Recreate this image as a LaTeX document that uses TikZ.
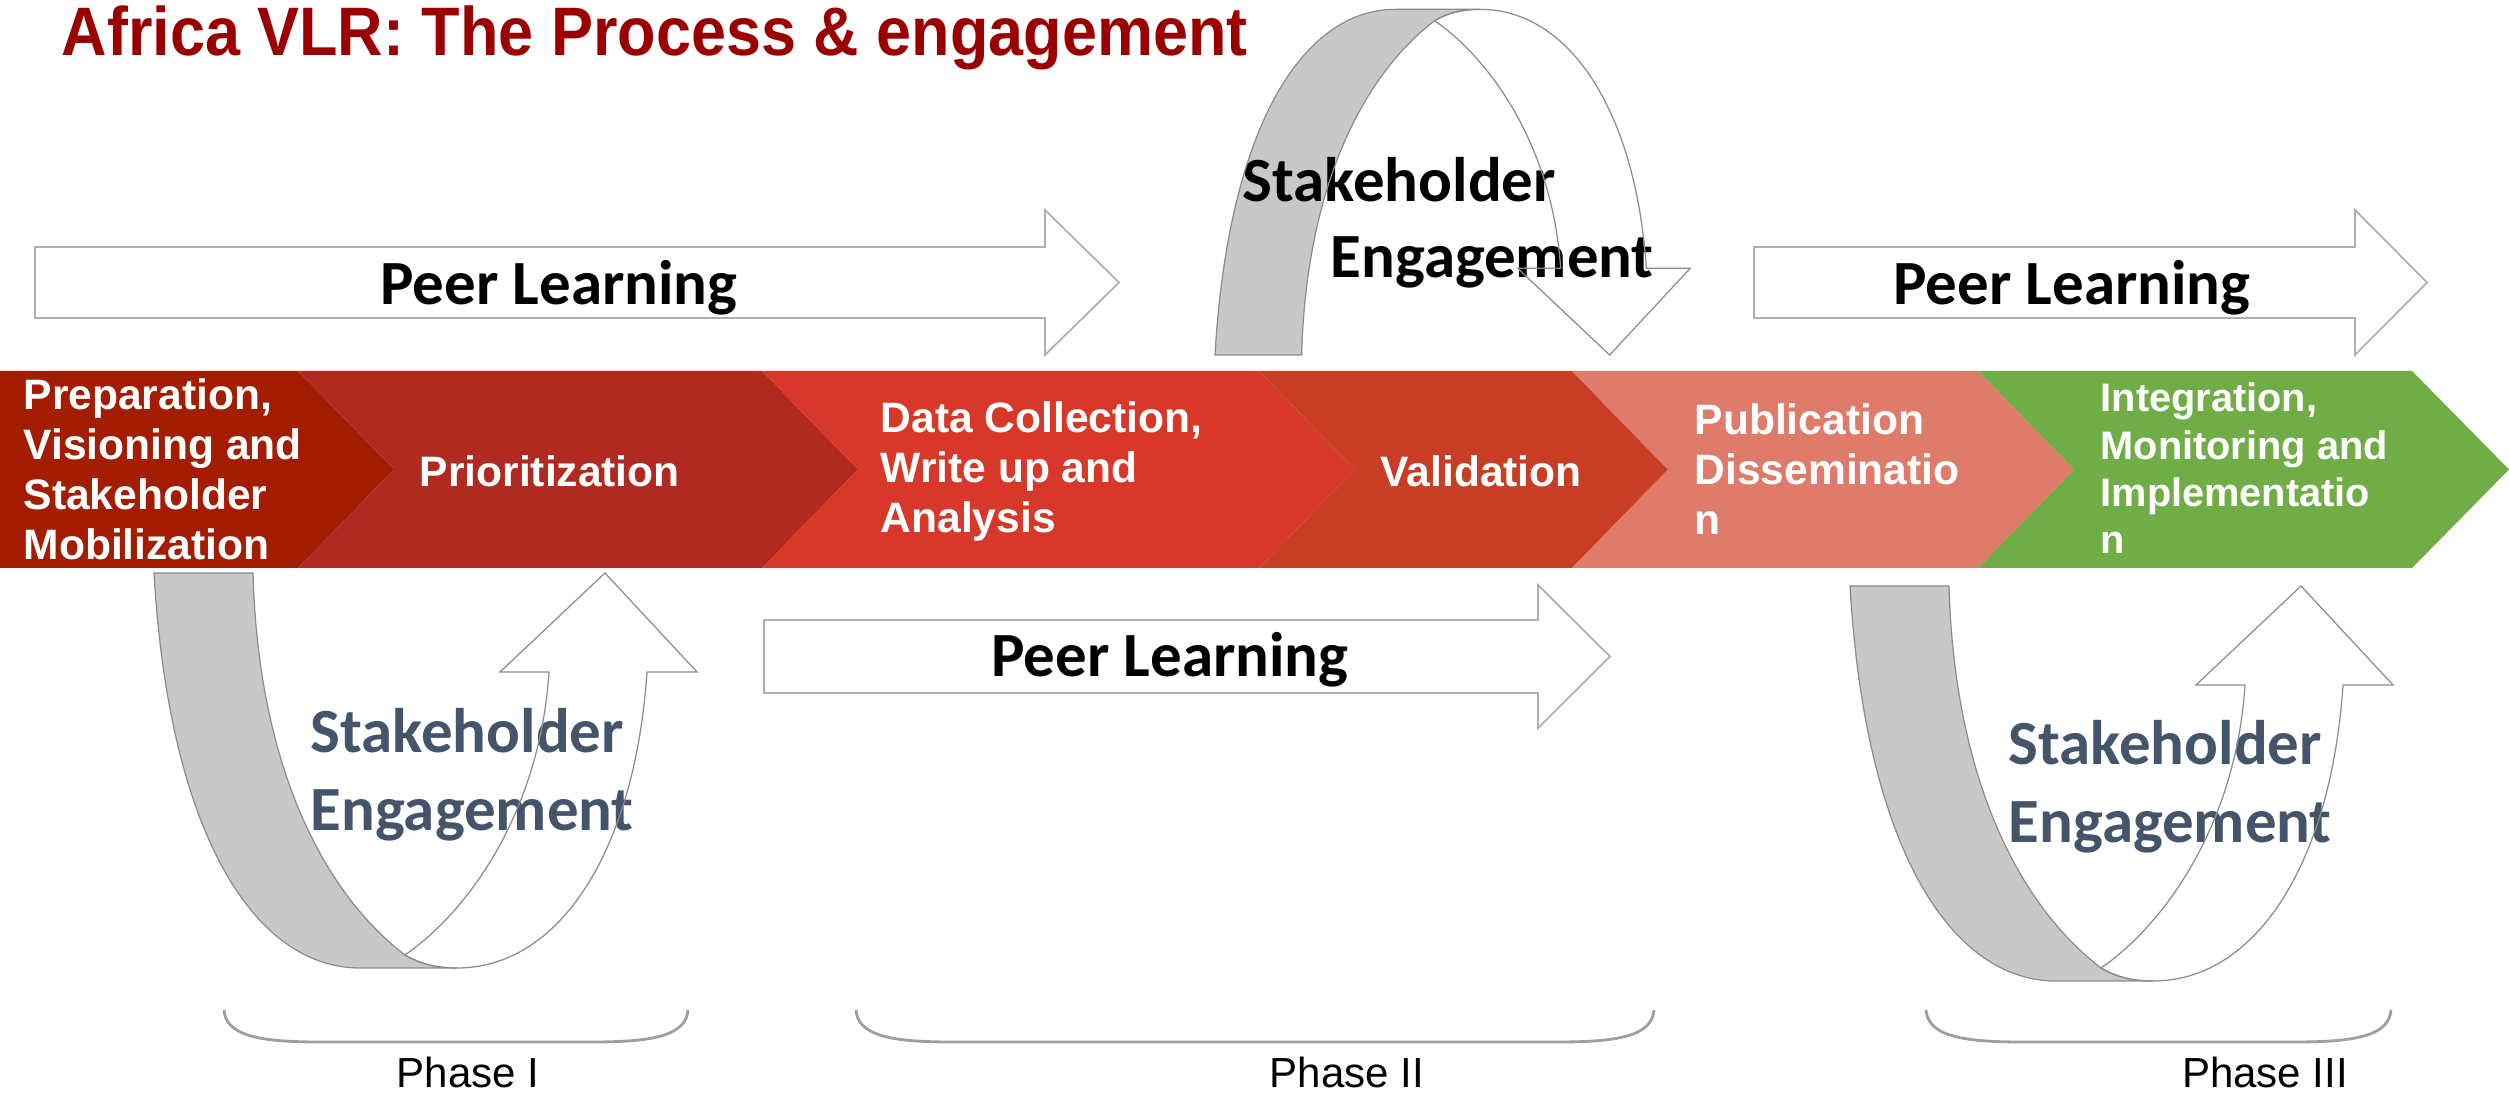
\documentclass[tikz,border=0pt]{standalone}
\usepackage{graphicx}
\usepackage{fontspec}
\setmainfont{Liberation Sans}
\newfontfamily\calfont{Carlito}
\definecolor{titlered}{RGB}{155,0,0}
\definecolor{cA}{RGB}{163,29,3}
\definecolor{cB}{RGB}{176,42,34}
\definecolor{cC}{RGB}{216,56,42}
\definecolor{cD}{RGB}{200,62,36}
\definecolor{cE}{RGB}{222,123,106}
\definecolor{cF}{RGB}{112,173,71}
\definecolor{slate}{RGB}{68,84,106}
\definecolor{ribbon}{RGB}{200,200,200}
\definecolor{edge}{RGB}{140,140,140}
\newcommand\ugraypath{(0,0) -- (99,0) .. controls (104,187) and (166,317) .. (251,382) .. controls (268,392) and (285,395) .. (303,395) -- (206,395) .. controls (100,395) and (15,260) .. (0,0) -- cycle}
\newcommand\uwhitepath{(251,382) .. controls (316,337) and (386,237) .. (395,99) -- (346,99) -- (451,0) -- (543,99) -- (493,99) .. controls (481,277) and (406,395) .. (303,395) .. controls (285,395) and (268,392) .. (251,382) -- cycle}
\tikzset{
  chevtext/.style={text=white, font=\fontsize{12.1pt}{14.2pt}\selectfont\bfseries, inner sep=0pt, anchor=base west},
  chevtextsmall/.style={chevtext, font=\fontsize{11.3pt}{13.4pt}\selectfont\bfseries},
  peertext/.style={font=\calfont\fontsize{17.9pt}{21.9pt}\selectfont\bfseries, inner sep=0pt, anchor=base},
  stketext/.style={font=\calfont\fontsize{17.9pt}{21.9pt}\selectfont\bfseries, inner sep=0pt, anchor=base west},
  blockarrow/.style={draw=edge!70, fill=white, line width=0.5pt},
  ribbonedge/.style={draw=edge, line width=0.35pt},
  phasebrace/.style={draw=gray!75, line width=0.8pt},
  phasetext/.style={font=\fontsize{11.95pt}{14pt}\selectfont, inner sep=0pt, anchor=base},
}
\begin{document}
\begin{tikzpicture}[x=0.01cm,y=-0.01cm]
\useasboundingbox (0,0) rectangle (2509,1095);
\fill[white] (0,0) rectangle (2509,1095);

% title
\node[anchor=base west, inner sep=0pt, text=titlered, font=\fontsize{17.9pt}{20pt}\selectfont\bfseries] (title) at (61,56) {\scalebox{1}[1.09]{Africa VLR: The Process \& engagement}};

% chevron band
\fill[cA] (0,371) -- (298,371) -- (394,469.5) -- (298,568) -- (0,568) -- cycle;
\fill[cB] (298,371) -- (762,371) -- (858,469.5) -- (762,568) -- (298,568) -- (394,469.5) -- cycle;
\fill[cC] (762,371) -- (1259,371) -- (1355,469.5) -- (1259,568) -- (762,568) -- (858,469.5) -- cycle;
\fill[cD] (1259,371) -- (1572,371) -- (1668,469.5) -- (1572,568) -- (1259,568) -- (1355,469.5) -- cycle;
\fill[cE] (1572,371) -- (1978,371) -- (2074,469.5) -- (1978,568) -- (1572,568) -- (1668,469.5) -- cycle;
\fill[cF] (1978,371) -- (2412,371) -- (2509,469.5) -- (2412,568) -- (1978,568) -- (2074,469.5) -- cycle;

\node[chevtext] (s1) at (23,410) {\vtop{\hbox{Preparation,}\hbox{Visioning and}\hbox{Stakeholder}\hbox{Mobilization}}};
\node[chevtext] (s2) at (419,487) {Prioritization};
\node[chevtext] (s3) at (880,433) {\vtop{\hbox{Data Collection,}\hbox{Write up and}\hbox{Analysis}}};
\node[chevtext] (s4) at (1380,487) {Validation};
\node[chevtext] (s5) at (1694,435) {\vtop{\hbox{Publication}\hbox{Disseminatio}\hbox{n}}};
\node[chevtextsmall] (s6) at (2100,412) {\vtop{\hbox{Integration,}\hbox{Monitoring and}\hbox{Implementatio}\hbox{n}}};

% peer learning block arrows
\path[blockarrow] (35,247) -- (1045,247) -- (1045,210) -- (1119,282.5) -- (1045,355) -- (1045,318) -- (35,318) -- cycle;
\path[blockarrow] (1754,247) -- (2355,247) -- (2355,210) -- (2427,282.5) -- (2355,355) -- (2355,318) -- (1754,318) -- cycle;
\path[blockarrow] (764,620) -- (1538,620) -- (1538,585) -- (1610,656.5) -- (1538,728) -- (1538,693) -- (764,693) -- cycle;
\node[peertext] (peer1) at (559,305) {Peer Learning};
\node[peertext] (peer2) at (2072,305) {Peer Learning};
\node[peertext] (peer3) at (1170,677) {Peer Learning};

% ribbons: fills
\begin{scope}[shift={(154,573)}]
  \fill[ribbon] \ugraypath;
  \fill[white] \uwhitepath;
\end{scope}
\begin{scope}[shift={(1850,586)}]
  \fill[ribbon] \ugraypath;
  \fill[white] \uwhitepath;
\end{scope}
\begin{scope}[shift={(1215,355)}, xscale=0.875, yscale=-0.875]
  \fill[ribbon] \ugraypath;
  \fill[white] \uwhitepath;
\end{scope}

% stakeholder texts
\node[stketext, text=black] (seTopA) at (1242,202) {Stakeholder};
\node[stketext, text=black] (seTopB) at (1330,278) {Engagement};
\node[stketext, text=slate] (seLeft) at (310,753) {\vtop{\hbox{Stakeholder}\hbox{Engagement}}};
\node[stketext, text=slate] (seRight) at (2008,765) {\vtop{\hbox{Stakeholder}\hbox{Engagement}}};

% ribbons: outlines
\begin{scope}[shift={(154,573)}]
  \path[ribbonedge] \ugraypath;
  \path[ribbonedge] \uwhitepath;
\end{scope}
\begin{scope}[shift={(1850,586)}]
  \path[ribbonedge] \ugraypath;
  \path[ribbonedge] \uwhitepath;
\end{scope}
\begin{scope}[shift={(1215,355)}, xscale=0.875, yscale=-0.875]
  \path[ribbonedge] \ugraypath;
  \path[ribbonedge] \uwhitepath;
\end{scope}

% phases
\path[phasebrace] (224,1010) .. controls (226,1036) and (260,1042) .. (320,1042) -- (592,1042) .. controls (652,1042) and (686,1036) .. (688,1010);
\path[phasebrace] (856,1010) .. controls (858,1036) and (892,1042) .. (952,1042) -- (1558,1042) .. controls (1618,1042) and (1652,1036) .. (1654,1010);
\path[phasebrace] (1926,1010) .. controls (1928,1036) and (1962,1042) .. (2022,1042) -- (2295,1042) .. controls (2355,1042) and (2389,1036) .. (2391,1010);
\node[phasetext] (ph1) at (468,1087) {Phase I};
\node[phasetext] (ph2) at (1347,1087) {Phase II};
\node[phasetext] (ph3) at (2265,1087) {Phase III};
\end{tikzpicture}
\end{document}
